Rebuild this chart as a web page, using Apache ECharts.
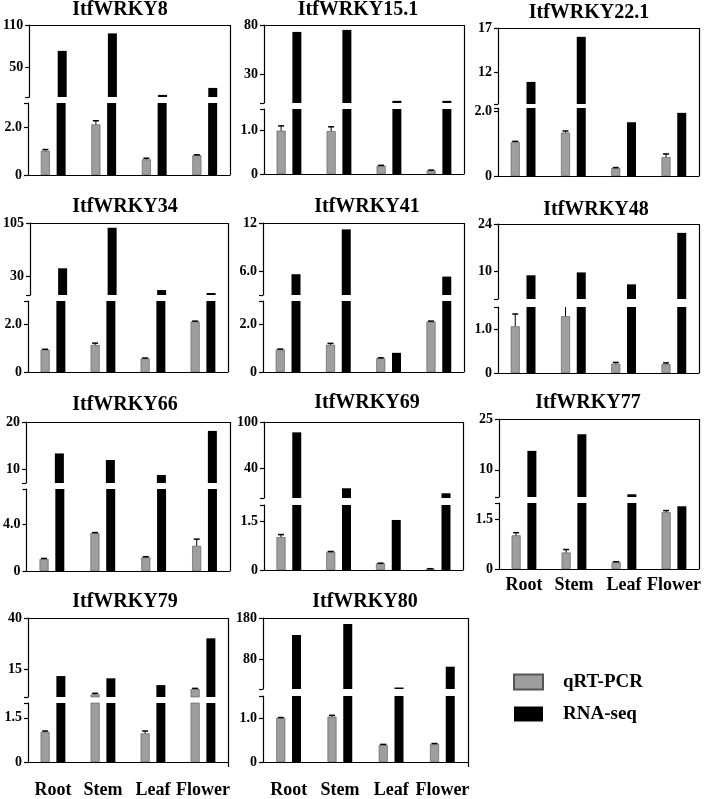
<!DOCTYPE html>
<html>
<head>
<meta charset="utf-8">
<script src="https://cdn.jsdelivr.net/npm/echarts@6/dist/echarts.min.js"></script>
<style>
html, body { margin: 0; padding: 0; background: #fff; }
#main { width: 709px; height: 799px; }
</style>
</head>
<body>
<div id="main"></div>
<script>
var categories = ['Root', 'Stem', 'Leaf', 'Flower'];
var genes = ['ItfWRKY8', 'ItfWRKY15.1', 'ItfWRKY22.1', 'ItfWRKY34', 'ItfWRKY41', 'ItfWRKY48',
             'ItfWRKY66', 'ItfWRKY69', 'ItfWRKY77', 'ItfWRKY79', 'ItfWRKY80'];

// qRT-PCR relative expression (grey bars)
var qrtValues = [
    [1.01, 2.11, 0.65, 0.82],
    [1.0, 0.99, 0.19, 0.08],
    [1.05, 1.34, 0.24, 0.58],
    [0.94, 1.14, 0.57, 2.13],
    [0.95, 1.15, 0.58, 2.13],
    [1.06, 1.29, 0.21, 0.2],
    [1.02, 3.23, 1.17, 2.15],
    [1.01, 0.56, 0.2, 0.04],
    [1.02, 0.5, 0.21, 1.72],
    [1.02, 2.8, 0.97, 5.4],
    [1.0, 1.03, 0.39, 0.41]
];
var qrtErrors = [
    [0.05, 0.15, 0.05, 0.02],
    [0.11, 0.1, 0.01, 0.01],
    [0.02, 0.05, 0.02, 0.1],
    [0.02, 0.08, 0.02, 0.02],
    [0.02, 0.06, 0.02, 0.02],
    [0.28, 0.23, 0.03, 0.03],
    [0.05, 0.05, 0.05, 0.57],
    [0.08, 0.01, 0.01, 0.0],
    [0.08, 0.09, 0.01, 0.05],
    [0.03, 0.5, 0.08, 0.3],
    [0.01, 0.03, 0.01, 0.01]
];
// RNA-seq (black bars)
var rnaSeqValues = [
    [73, 98, 10, 20],
    [73, 75, 3.2, 3.2],
    [10.9, 16.0, 1.66, 1.95],
    [40.8, 98.3, 10, 5.8],
    [5.6, 11.2, 0.81, 5.3],
    [8.95, 9.8, 6.3, 21.4],
    [13.3, 11.9, 8.7, 18.1],
    [86.6, 14.1, 1.54, 7.6],
    [15.6, 20.5, 2.8, 1.9],
    [11.7, 10.6, 7.3, 30.1],
    [138.8, 165.5, 11.6, 62]
];

// broken axis: upper and lower segment ranges and labelled ticks
var upperRanges = [[7, 110], [1, 80], [8.4, 17], [3, 105], [3, 12], [2, 24], [7, 20], [1.5, 100], [2, 25], [1.5, 40], [8, 180]];
var lowerRanges = [[0, 3], [0, 1.5], [0, 2.1], [0, 3], [0, 3], [0, 1.5], [0, 7], [0, 2], [0, 2], [0, 2], [0, 1.5]];
var upperTicks = [['50', '110'], ['30', '80'], ['12', '17'], ['30', '105'], ['6.0', '12'], ['10', '24'],
                  ['10', '20'], ['40', '100'], ['10', '25'], ['15', '40'], ['80', '180']];
var lowerTicks = [['0', '2.0'], ['0', '1.0'], ['0', '2.0'], ['0', '2.0'], ['0', '2.0'], ['0', '1.0'],
                  ['0', '4.0'], ['0', '1.5'], ['0', '1.5'], ['0', '1.5'], ['0', '1.0']];

// panel boxes: left, right, top, upper-bottom, lower-top, bottom
var boxes = [
    [28, 230, 25, 97, 103, 175],
    [264, 464, 25, 103, 109, 174],
    [498, 699, 28, 104, 108, 176],
    [28, 228, 223, 295, 301, 372],
    [263, 464, 223, 295, 301, 372],
    [498, 699, 224, 299, 307, 373],
    [26, 230, 422, 483, 489, 571],
    [264, 463, 422, 498, 505, 570],
    [499, 699, 419, 497, 503, 569],
    [28, 228, 618, 697, 703, 767],
    [263, 468, 618, 689, 696, 767]
];
var titlePos = [[120, 10], [358, 10], [589, 13], [125, 207], [367, 207], [596, 210],
                [125, 405], [367, 403], [588, 403], [125, 602], [365, 602]];
var xLabelMargin = [null, null, null, null, null, null, null, null, 7, 19, 19];

var FONT = '"Liberation Serif", "Times New Roman", serif';
var BAR_W = 9;
var BAR_GAP = 0.75;
var SHIFT = (BAR_W + BAR_W * BAR_GAP) / 2;
var GREY = '#9e9e9e';

var grids = [], xAxes = [], yAxes = [], series = [], graphics = [];

function makeYAxis(gi, range, ticks, edge) {
    var vals = ticks.map(Number);
    return {
        type: 'value', gridIndex: gi, min: range[0], max: range[1],
        splitLine: { show: false },
        axisLine: { show: true, onZero: false, lineStyle: { color: '#000', width: 1.2 } },
        axisTick: { show: true, length: 4, customValues: vals.concat([edge]), lineStyle: { color: '#000', width: 1.2 } },
        axisLabel: {
            customValues: vals, margin: 6, color: '#000', fontFamily: FONT, fontWeight: 'bold', fontSize: 14,
            formatter: function (v) {
                for (var i = 0; i < vals.length; i++) {
                    if (Math.abs(vals[i] - v) < 1e-9) return ticks[i];
                }
                return '';
            }
        }
    };
}

function errorRender(params, api) {
    var base = api.coord([api.value(0), api.value(1)]);
    var top = api.coord([api.value(0), api.value(1) + api.value(2)]);
    var cx = base[0] - SHIFT;
    return {
        type: 'group',
        children: [
            { type: 'line', shape: { x1: cx, y1: base[1], x2: cx, y2: top[1] }, style: { stroke: '#000', lineWidth: 1 } },
            { type: 'line', shape: { x1: cx - 3, y1: top[1], x2: cx + 3, y2: top[1] }, style: { stroke: '#000', lineWidth: 1.5 } }
        ]
    };
}

genes.forEach(function (gene, p) {
    var b = boxes[p];
    var up = 2 * p, lo = 2 * p + 1;
    var uMin = upperRanges[p][0];
    grids.push({ left: b[0], top: b[2], width: b[1] - b[0], height: b[3] - b[2] });
    grids.push({ left: b[0], top: b[4], width: b[1] - b[0], height: b[5] - b[4] });

    xAxes.push({
        type: 'category', gridIndex: up, data: categories, position: 'top',
        axisLine: { onZero: false, lineStyle: { color: '#000', width: 1.2 } },
        axisTick: { show: false }, axisLabel: { show: false }
    });
    xAxes.push({
        type: 'category', gridIndex: lo, data: categories, position: 'bottom',
        axisLine: { onZero: false, lineStyle: { color: '#000', width: 1.2 } },
        axisTick: { show: false },
        axisLabel: {
            show: xLabelMargin[p] !== null, margin: xLabelMargin[p] || 8, interval: 0,
            color: '#000', fontFamily: FONT, fontWeight: 'bold', fontSize: 18
        }
    });
    yAxes.push(makeYAxis(up, upperRanges[p], upperTicks[p], uMin));
    yAxes.push(makeYAxis(lo, lowerRanges[p], lowerTicks[p], lowerRanges[p][1]));

    [up, lo].forEach(function (gi) {
        var isUp = gi === up;
        // in the upper segment keep only values that reach above the break
        var keep = function (v) { return (!isUp || v > uMin) ? v : '-'; };
        series.push({
            type: 'bar', name: 'qRT-PCR', xAxisIndex: gi, yAxisIndex: gi,
            data: qrtValues[p].map(keep), barWidth: BAR_W, barGap: (BAR_GAP * 100) + '%', clip: true,
            itemStyle: { color: GREY, borderColor: '#555', borderWidth: 0.6 }
        });
        series.push({
            type: 'bar', name: 'RNA-seq', xAxisIndex: gi, yAxisIndex: gi,
            data: rnaSeqValues[p].map(keep), barWidth: BAR_W, clip: true,
            itemStyle: { color: '#000' }
        });
        var errData = [];
        qrtValues[p].forEach(function (v, i) {
            if (!isUp || v > uMin) errData.push([i, v, qrtErrors[p][i]]);
        });
        series.push({
            type: 'custom', xAxisIndex: gi, yAxisIndex: gi, clip: true, z: 5,
            renderItem: errorRender,
            encode: { x: 0, y: 1 },
            data: errData
        });
    });

    // right frame edge
    graphics.push({
        type: 'line', silent: true,
        shape: { x1: b[1] + 0.5, y1: b[2], x2: b[1] + 0.5, y2: b[5] },
        style: { stroke: '#000', lineWidth: 1.2 }
    });
    graphics.push({
        type: 'text', x: titlePos[p][0], y: titlePos[p][1], silent: true,
        style: {
            text: gene, fill: '#000', align: 'center', verticalAlign: 'middle',
            fontFamily: FONT, fontWeight: 'bold', fontSize: 20
        }
    });
});

var chart = echarts.init(document.getElementById('main'), null, { renderer: 'canvas' });
chart.setOption({
    animation: false,
    backgroundColor: '#fff',
    grid: grids,
    xAxis: xAxes,
    yAxis: yAxes,
    series: series,
    graphic: graphics,
    legend: {
        data: ['qRT-PCR', 'RNA-seq'],
        orient: 'vertical', left: 508, top: 667,
        icon: 'rect', itemWidth: 29, itemHeight: 15, itemGap: 12,
        textStyle: {
            color: '#000', fontFamily: FONT, fontWeight: 'bold', fontSize: 19,
            lineHeight: 20, padding: [0, 0, 0, 15]
        }
    }
});
</script>
</body>
</html>
